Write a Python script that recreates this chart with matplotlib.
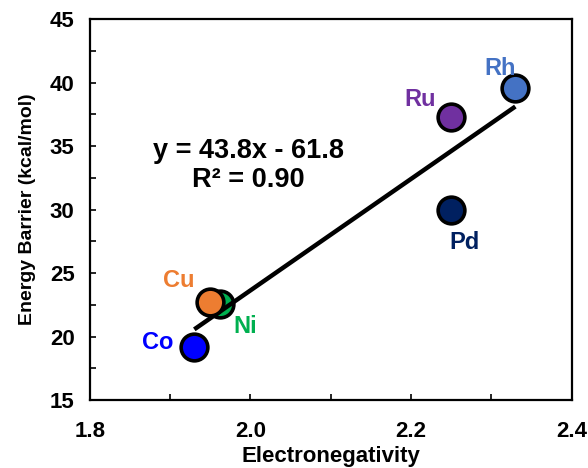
import numpy as np
import matplotlib.pyplot as plt
from matplotlib.ticker import MultipleLocator

plt.rcParams['font.family'] = ['Liberation Sans', 'DejaVu Sans']

# data
metals = ["Co", "Cu", "Ni", "Ru", "Pd", "Rh"]
electroneg = [1.93, 1.95, 1.962, 2.25, 2.25, 2.33]
barrier = [19.2, 22.75, 22.55, 37.3, 30.0, 39.55]
colors = ["#0000FF", "#ED7D31", "#00B050", "#7030A0", "#002060", "#4472C4"]

# label offsets (data units) relative to each point
label_dx = [-0.046, -0.040, 0.032, -0.039, 0.017, -0.019]
label_dy = [0.3, 1.7, -1.75, 1.4, -2.55, 1.55]

fig = plt.figure(figsize=(5.88, 4.68), dpi=100)
ax = fig.add_axes([0.153, 0.145, 0.819, 0.814])

# linear fit over the data range
slope, icpt = np.polyfit(electroneg, barrier, 1)
xfit = np.array([min(electroneg), max(electroneg)])
ax.plot(xfit, slope * xfit + icpt, color='black', lw=3.2, zorder=2,
        solid_capstyle='butt')

for i, m in enumerate(metals):
    z = 1.5 if m == "Ni" else 3
    ax.scatter(electroneg[i], barrier[i], s=370, color=colors[i],
               edgecolor='black', linewidth=2.6, zorder=z)
    ax.text(electroneg[i] + label_dx[i], barrier[i] + label_dy[i], m,
            color=colors[i], fontsize=17, fontweight='bold',
            ha='center', va='center', zorder=4)

ax.text(1.997, 33.45, "y = 43.8x - 61.8\nR² = 0.90", fontsize=19.5,
        ha='center', va='center', linespacing=1.15, fontweight='semibold')

ax.set_xlim(1.8, 2.4)
ax.set_ylim(15, 45)
ax.xaxis.set_major_locator(MultipleLocator(0.2))
ax.xaxis.set_minor_locator(MultipleLocator(0.1))
ax.yaxis.set_major_locator(MultipleLocator(5))
ax.yaxis.set_minor_locator(MultipleLocator(2.5))
ax.xaxis.set_major_formatter(plt.FormatStrFormatter('%.1f'))
ax.tick_params(which='both', direction='in', length=4, width=1.2)
ax.tick_params(axis='x', which='major', pad=15)
ax.tick_params(axis='y', which='major', pad=11)
for lab in ax.get_xticklabels() + ax.get_yticklabels():
    lab.set_fontsize(16)
    lab.set_fontweight('bold')
for sp in ax.spines.values():
    sp.set_linewidth(1.6)

ax.set_xlabel("Electronegativity", fontsize=16, fontweight='bold', labelpad=3)
ax.set_ylabel("Energy Barrier (kcal/mol)", fontsize=14, fontweight='bold',
              labelpad=10)

fig.savefig("out.png", dpi=100)
